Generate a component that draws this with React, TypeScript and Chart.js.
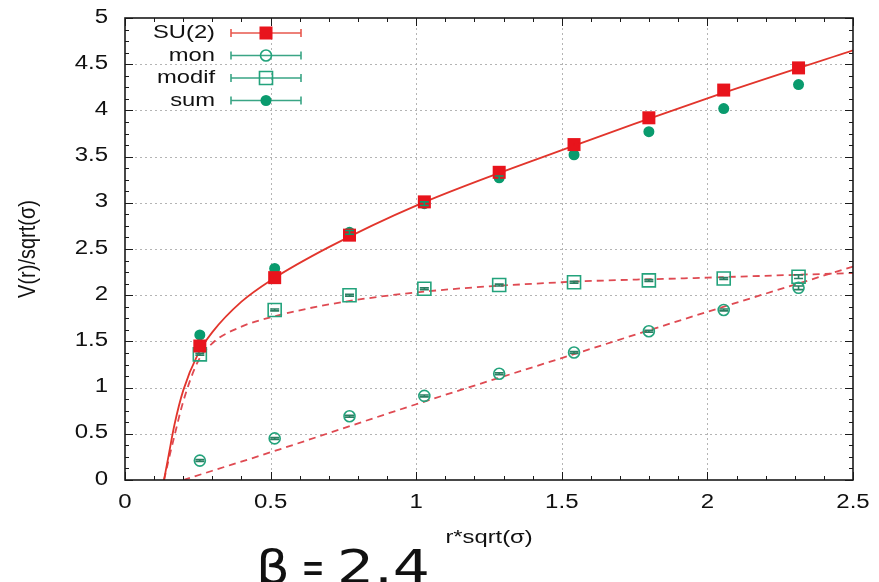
import React, { useEffect, useRef } from "react";
import { Chart, registerables } from "chart.js";

Chart.register(...registerables);

// ---------- data ----------
const rValues = [0.257, 0.514, 0.771, 1.028, 1.285, 1.542, 1.799, 2.056, 2.313];
const su2Values = [1.45, 2.19, 2.65, 3.01, 3.33, 3.63, 3.92, 4.22, 4.46];
const monValues = [0.21, 0.45, 0.69, 0.91, 1.15, 1.38, 1.61, 1.84, 2.08];
const modifValues = [1.36, 1.84, 2.0, 2.07, 2.11, 2.14, 2.16, 2.18, 2.2];
const sumValues = [1.57, 2.29, 2.68, 2.99, 3.27, 3.52, 3.77, 4.02, 4.28];
const su2Err = [0.02, 0.02, 0.02, 0.02, 0.02, 0.02, 0.02, 0.02, 0.02];
const monErr = [0.01, 0.01, 0.01, 0.01, 0.01, 0.01, 0.01, 0.01, 0.02];
const modifErr = [0.01, 0.01, 0.01, 0.01, 0.01, 0.01, 0.01, 0.01, 0.02];
const sumErr = [0.02, 0.02, 0.02, 0.02, 0.02, 0.02, 0.02, 0.02, 0.02];

const fitX = [0.134, 0.15, 0.17, 0.2, 0.25, 0.3, 0.4, 0.5, 0.7, 1.0, 1.5, 2.0, 2.5];
const su2Fit = [0, 0.27, 0.6, 0.97, 1.36, 1.6, 1.93, 2.16, 2.52, 2.97, 3.57, 4.13, 4.65];
const modifFit = [0, 0.22, 0.48, 0.85, 1.28, 1.48, 1.66, 1.76, 1.9, 2.03, 2.14, 2.19, 2.24];
const monFitX = [0.2, 0.3, 0.5, 1.0, 1.5, 2.0, 2.5];
const monFit = [0, 0.1, 0.3, 0.82, 1.32, 1.82, 2.31];

const xTickValues = [0, 0.5, 1, 1.5, 2, 2.5];
const xTickLabels = ["0", "0.5", "1", "1.5", "2", "2.5"];
const yTickValues = [0, 0.5, 1, 1.5, 2, 2.5, 3, 3.5, 4, 4.5, 5];
const yTickLabels = ["0", "0.5", "1", "1.5", "2", "2.5", "3", "3.5", "4", "4.5", "5"];
const xMinorStep = 0.1;
const yMinorStep = 0.125;

const seriesLabels = ["SU(2)", "mon", "modif", "sum"];
const xTitle = "r*sqrt(σ)";
const yTitle = "V(r)/sqrt(σ)";
const betaParts = ["β", "=", "2.4"];

// ---------- styles ----------
const RED = "#e8141c";
const RED_LINE = "#e2352c";
const RED_DASH = "#df4a52";
const TEAL = "#0a9b6e";
const TEAL_OPEN = "#23a37c";
const TEAL_BAR = "#2a7f62";
const FONT = '"Liberation Sans", Arial, Helvetica, sans-serif';

const pts = (xs: number[], ys: number[]) => xs.map((v, i) => ({ x: v, y: ys[i] }));

function sText(
  ctx: CanvasRenderingContext2D,
  t: string,
  x: number,
  y: number,
  size: number,
  align: CanvasTextAlign,
  sx = 1.22,
  family = FONT
) {
  ctx.save();
  ctx.translate(x, y);
  ctx.scale(sx, 1);
  ctx.font = `${size}px ${family}`;
  ctx.textAlign = align;
  ctx.textBaseline = "middle";
  ctx.fillStyle = "#111";
  ctx.fillText(t, 0, 0);
  ctx.restore();
}

function marker(ctx: CanvasRenderingContext2D, ds: any, x: number, y: number) {
  const r = ds.pointRadius;
  ctx.save();
  ctx.lineWidth = ds.borderWidth || 0;
  ctx.strokeStyle = ds.borderColor;
  ctx.fillStyle = ds.backgroundColor;
  ctx.beginPath();
  if (ds.pointStyle === "rect") {
    const s = Math.SQRT1_2 * r;
    ctx.rect(x - s, y - s, 2 * s, 2 * s);
  } else {
    ctx.arc(x, y, r, 0, Math.PI * 2);
  }
  ctx.fill();
  if (ds.borderWidth) ctx.stroke();
  ctx.restore();
}

const errSets = [su2Err, monErr, modifErr, sumErr];
const barColors = [RED, TEAL_BAR, TEAL_BAR, TEAL];
const legendLineColors = ["#e8584e", "#3aa585", "#3aa585", "#3aa585"];

const decor = {
  id: "gnuplotDecor",
  beforeDatasetsDraw(chart: any) {
    const { ctx, chartArea: a, scales } = chart;
    const x = scales.x;
    const y = scales.y;
    ctx.save();
    ctx.strokeStyle = "#b4b4b4";
    ctx.lineWidth = 1;
    ctx.setLineDash([2, 3]);
    xTickValues.forEach((v) => {
      if (v <= x.min || v >= x.max) return;
      const px = Math.round(x.getPixelForValue(v)) + 0.5;
      ctx.beginPath();
      ctx.moveTo(px, a.top);
      ctx.lineTo(px, a.bottom);
      ctx.stroke();
    });
    yTickValues.forEach((v) => {
      if (v <= y.min || v >= y.max) return;
      const py = Math.round(y.getPixelForValue(v)) + 0.5;
      ctx.beginPath();
      ctx.moveTo(a.left, py);
      ctx.lineTo(a.right, py);
      ctx.stroke();
    });
    ctx.restore();
  },
  afterDatasetsDraw(chart: any) {
    const { ctx, chartArea: a, scales } = chart;
    const x = scales.x;
    const y = scales.y;

    // error bars
    ctx.save();
    ctx.lineWidth = 1.6;
    for (let d = 0; d < 4; d++) {
      const ds = chart.data.datasets[d];
      ctx.strokeStyle = barColors[d];
      ds.data.forEach((p: any, i: number) => {
        const px = x.getPixelForValue(p.x);
        const y1 = y.getPixelForValue(p.y - errSets[d][i]);
        const y2 = y.getPixelForValue(p.y + errSets[d][i]);
        ctx.beginPath();
        ctx.moveTo(px, y1);
        ctx.lineTo(px, y2);
        ctx.moveTo(px - 4.5, y1);
        ctx.lineTo(px + 4.5, y1);
        ctx.moveTo(px - 4.5, y2);
        ctx.lineTo(px + 4.5, y2);
        ctx.stroke();
      });
    }
    ctx.restore();

    // frame + ticks
    ctx.save();
    ctx.strokeStyle = "#1a1a1a";
    ctx.lineWidth = 1;
    const nx = Math.round((x.max - x.min) / xMinorStep);
    for (let i = 0; i <= nx; i++) {
      const v = x.min + i * xMinorStep;
      const major = Math.abs(v / 0.5 - Math.round(v / 0.5)) < 1e-6;
      const len = major ? 8 : 4;
      const px = Math.round(x.getPixelForValue(v)) + 0.5;
      ctx.beginPath();
      ctx.moveTo(px, a.bottom);
      ctx.lineTo(px, a.bottom - len);
      ctx.moveTo(px, a.top);
      ctx.lineTo(px, a.top + len);
      ctx.stroke();
    }
    const ny = Math.round((y.max - y.min) / yMinorStep);
    for (let i = 0; i <= ny; i++) {
      const v = y.min + i * yMinorStep;
      const major = Math.abs(v / 0.5 - Math.round(v / 0.5)) < 1e-6;
      const len = major ? 8 : 4;
      const py = Math.round(y.getPixelForValue(v)) + 0.5;
      ctx.beginPath();
      ctx.moveTo(a.left, py);
      ctx.lineTo(a.left + len, py);
      ctx.moveTo(a.right, py);
      ctx.lineTo(a.right - len, py);
      ctx.stroke();
    }
    ctx.lineWidth = 1.6;
    ctx.strokeRect(a.left, a.top, a.right - a.left, a.bottom - a.top);
    ctx.restore();

    // tick labels
    xTickValues.forEach((v, i) => {
      sText(ctx, xTickLabels[i], x.getPixelForValue(v), a.bottom + 22, 20, "center", 1.2);
    });
    yTickValues.forEach((v, i) => {
      sText(ctx, yTickLabels[i], a.left - 17, y.getPixelForValue(v) - 1, 20, "right", 1.2);
    });

    // axis titles
    sText(ctx, xTitle, (a.left + a.right) / 2, a.bottom + 58, 19, "center", 1.25);
    ctx.save();
    ctx.translate(28, (a.top + a.bottom) / 2);
    ctx.rotate(-Math.PI / 2);
    ctx.scale(1, 1.18);
    ctx.font = `20px ${FONT}`;
    ctx.textAlign = "center";
    ctx.textBaseline = "middle";
    ctx.fillStyle = "#111";
    ctx.fillText(yTitle, 0, 0);
    ctx.restore();

    // legend
    for (let d = 0; d < 4; d++) {
      const ds = chart.data.datasets[d];
      const ly = a.top + 15 + d * 22.5;
      sText(ctx, seriesLabels[d], a.left + 90, ly, 19, "right", 1.25);
      ctx.save();
      ctx.strokeStyle = legendLineColors[d];
      ctx.lineWidth = 1.6;
      ctx.beginPath();
      ctx.moveTo(a.left + 106, ly);
      ctx.lineTo(a.left + 176, ly);
      ctx.moveTo(a.left + 106, ly - 4);
      ctx.lineTo(a.left + 106, ly + 4);
      ctx.moveTo(a.left + 176, ly - 4);
      ctx.lineTo(a.left + 176, ly + 4);
      ctx.stroke();
      ctx.restore();
      marker(ctx, ds, a.left + 141, ly);
    }
  },
  afterDraw(chart: any) {
    const { ctx } = chart;
    ctx.save();
    ctx.fillStyle = "#111";
    ctx.textBaseline = "alphabetic";
    ctx.font = '46px "DejaVu Sans", sans-serif';
    ctx.save();
    ctx.translate(256, 583);
    ctx.scale(1.15, 1);
    ctx.textAlign = "left";
    ctx.fillText(betaParts[0], 0, 0);
    ctx.restore();
    ctx.save();
    ctx.translate(313, 583);
    ctx.scale(0.6, 1);
    ctx.textAlign = "center";
    ctx.fillText(betaParts[1], 0, 0);
    ctx.restore();
    ctx.save();
    ctx.translate(337, 583);
    ctx.scale(1.27, 1);
    ctx.textAlign = "left";
    ctx.fillText(betaParts[2], 0, 0);
    ctx.restore();
    ctx.restore();
  },
};

export default function App() {
  const ref = useRef<HTMLCanvasElement>(null);
  useEffect(() => {
    if (!ref.current) return;
    const transparent = "rgba(0,0,0,0)";
    const chart = new Chart(ref.current, {
      type: "scatter",
      data: {
        datasets: [
          {
            label: seriesLabels[0],
            data: pts(rValues, su2Values),
            pointStyle: "rect",
            pointRadius: 9.2,
            backgroundColor: RED,
            borderColor: RED,
            borderWidth: 0,
            showLine: false,
            order: 1,
          },
          {
            label: seriesLabels[1],
            data: pts(rValues, monValues),
            pointStyle: "circle",
            pointRadius: 5.5,
            backgroundColor: transparent,
            borderColor: TEAL_OPEN,
            borderWidth: 1.6,
            showLine: false,
            order: 3,
          },
          {
            label: seriesLabels[2],
            data: pts(rValues, modifValues),
            pointStyle: "rect",
            pointRadius: 9.2,
            backgroundColor: transparent,
            borderColor: TEAL_OPEN,
            borderWidth: 1.6,
            showLine: false,
            order: 3,
          },
          {
            label: seriesLabels[3],
            data: pts(rValues, sumValues),
            pointStyle: "circle",
            pointRadius: 5.5,
            backgroundColor: TEAL,
            borderColor: TEAL,
            borderWidth: 0,
            showLine: false,
            order: 2,
          },
          {
            label: "fit SU(2)",
            data: pts(fitX, su2Fit),
            showLine: true,
            pointRadius: 0,
            borderColor: RED_LINE,
            borderWidth: 1.8,
            cubicInterpolationMode: "monotone",
            order: 10,
          },
          {
            label: "fit modif",
            data: pts(fitX, modifFit),
            showLine: true,
            pointRadius: 0,
            borderColor: RED_DASH,
            borderWidth: 1.8,
            borderDash: [7, 5],
            cubicInterpolationMode: "monotone",
            order: 10,
          },
          {
            label: "fit mon",
            data: pts(monFitX, monFit),
            showLine: true,
            pointRadius: 0,
            borderColor: RED_DASH,
            borderWidth: 1.8,
            borderDash: [7, 5],
            cubicInterpolationMode: "monotone",
            order: 10,
          },
        ],
      },
      options: {
        animation: false,
        responsive: true,
        maintainAspectRatio: false,
        layout: { padding: { left: 0, top: 18, right: 26, bottom: 0 } },
        plugins: { legend: { display: false }, tooltip: { enabled: false } },
        scales: {
          x: {
            type: "linear",
            min: 0,
            max: 2.5,
            ticks: { display: false },
            grid: { display: false },
            border: { display: false },
            afterFit: (s: any) => {
              s.height = 102;
            },
          },
          y: {
            type: "linear",
            min: 0,
            max: 5,
            ticks: { display: false },
            grid: { display: false },
            border: { display: false },
            afterFit: (s: any) => {
              s.width = 125;
            },
          },
        },
      },
      plugins: [decor],
    } as any);
    return () => chart.destroy();
  }, []);
  return (
    <div
      style={{
        position: "absolute",
        left: 0,
        top: 0,
        width: 879,
        height: 582,
        background: "#fff",
      }}
    >
      <canvas ref={ref} />
    </div>
  );
}
